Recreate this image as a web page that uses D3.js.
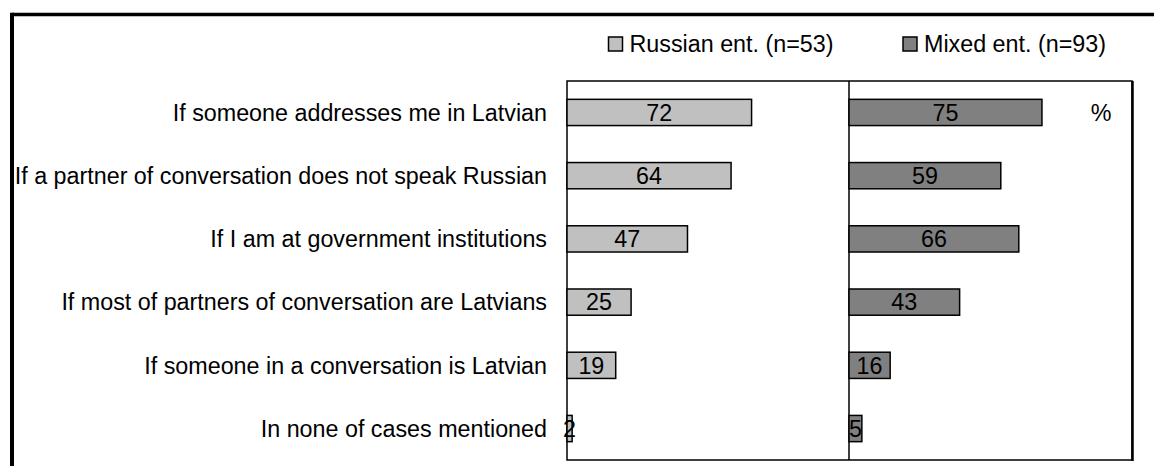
<!DOCTYPE html>
<html>
<head>
<meta charset="utf-8">
<script src="https://cdn.jsdelivr.net/npm/d3@7"></script>
<style>
  body { margin: 0; background: #fff; }
  text { font-family: "Liberation Sans", Arial, sans-serif; fill: #000; }
</style>
</head>
<body>
<svg width="1154" height="466"></svg>
<script>
// situations + answers in %
const categories = [
  "If someone addresses me in Latvian",
  "If a partner of conversation does not speak Russian",
  "If I am at government institutions",
  "If most of partners of conversation are Latvians",
  "If someone in a conversation is Latvian",
  "In none of cases mentioned"
];
const russian = [72, 64, 47, 25, 19, 2];
const mixed = [75, 59, 66, 43, 16, 5];
const seriesNames = ["Russian ent. (n=53)", "Mixed ent. (n=93)"];
const unitLabel = "%";

const svg = d3.select("svg");
const fontSize = 23.3;

const plotTop = 81, plotBottom = 460;
const leftX = 567, midX = 849, rightX = 1132;

// outer frame (only top and left show in the crop)
svg.append("line").attr("x1", 12).attr("x2", 1154).attr("y1", 14.5).attr("y2", 14.5)
  .attr("stroke", "#000").attr("stroke-width", 3.5);
svg.append("line").attr("x1", 12).attr("x2", 12).attr("y1", 12.8).attr("y2", 466)
  .attr("stroke", "#000").attr("stroke-width", 4);

const yScale = d3.scaleBand()
  .domain(categories)
  .range([plotTop, plotBottom])
  .paddingInner(0.585)
  .paddingOuter(0.29);

const xLeft = d3.scaleLinear().domain([0, 110]).range([leftX, midX]);
const xRight = d3.scaleLinear().domain([0, 110]).range([midX, rightX]);

// plot boxes
svg.append("rect").attr("x", leftX).attr("y", plotTop)
  .attr("width", rightX - leftX).attr("height", plotBottom - plotTop)
  .attr("fill", "none").attr("stroke", "#000").attr("stroke-width", 1.5);
svg.append("line").attr("x1", midX).attr("x2", midX).attr("y1", plotTop).attr("y2", plotBottom)
  .attr("stroke", "#000").attr("stroke-width", 1.5);
svg.append("line").attr("x1", rightX + 0.5).attr("x2", rightX + 0.5).attr("y1", plotTop).attr("y2", plotBottom + 1)
  .attr("stroke", "#000").attr("stroke-width", 2.5);

// category labels
svg.append("g").selectAll("text")
  .data(categories)
  .enter()
  .append("text")
  .attr("x", 547)
  .attr("y", d => yScale(d) + yScale.bandwidth() / 2)
  .attr("dy", "0.36em")
  .attr("text-anchor", "end")
  .attr("font-size", fontSize)
  .text(d => d);

function drawSeries(values, xScale, color) {
  const g = svg.append("g");
  g.selectAll("rect")
    .data(values)
    .enter()
    .append("rect")
    .attr("x", xScale(0))
    .attr("y", (d, i) => yScale(categories[i]))
    .attr("width", d => xScale(d) - xScale(0))
    .attr("height", yScale.bandwidth())
    .attr("fill", color)
    .attr("stroke", "#000")
    .attr("stroke-width", 1.5);
  g.selectAll("text")
    .data(values)
    .enter()
    .append("text")
    .attr("x", d => (xScale(0) + xScale(d)) / 2)
    .attr("y", (d, i) => yScale(categories[i]) + yScale.bandwidth() / 2)
    .attr("dy", "0.36em")
    .attr("text-anchor", "middle")
    .attr("font-size", fontSize)
    .text(d => d);
}
drawSeries(russian, xLeft, "#c0c0c0");
drawSeries(mixed, xRight, "#808080");

// percent sign
svg.append("text")
  .attr("x", 1101)
  .attr("y", yScale(categories[0]) + yScale.bandwidth() / 2)
  .attr("dy", "0.36em")
  .attr("text-anchor", "middle")
  .attr("font-size", fontSize)
  .text(unitLabel);

// legend
const legendX = [608.5, 903];
const legendColors = ["#c0c0c0", "#808080"];
seriesNames.forEach((name, i) => {
  svg.append("rect")
    .attr("x", legendX[i]).attr("y", 37)
    .attr("width", 14).attr("height", 14)
    .attr("fill", legendColors[i])
    .attr("stroke", "#000").attr("stroke-width", 1.5);
  svg.append("text")
    .attr("x", legendX[i] + 21)
    .attr("y", 51.5)
    .attr("font-size", fontSize)
    .text(name);
});
</script>
</body>
</html>
